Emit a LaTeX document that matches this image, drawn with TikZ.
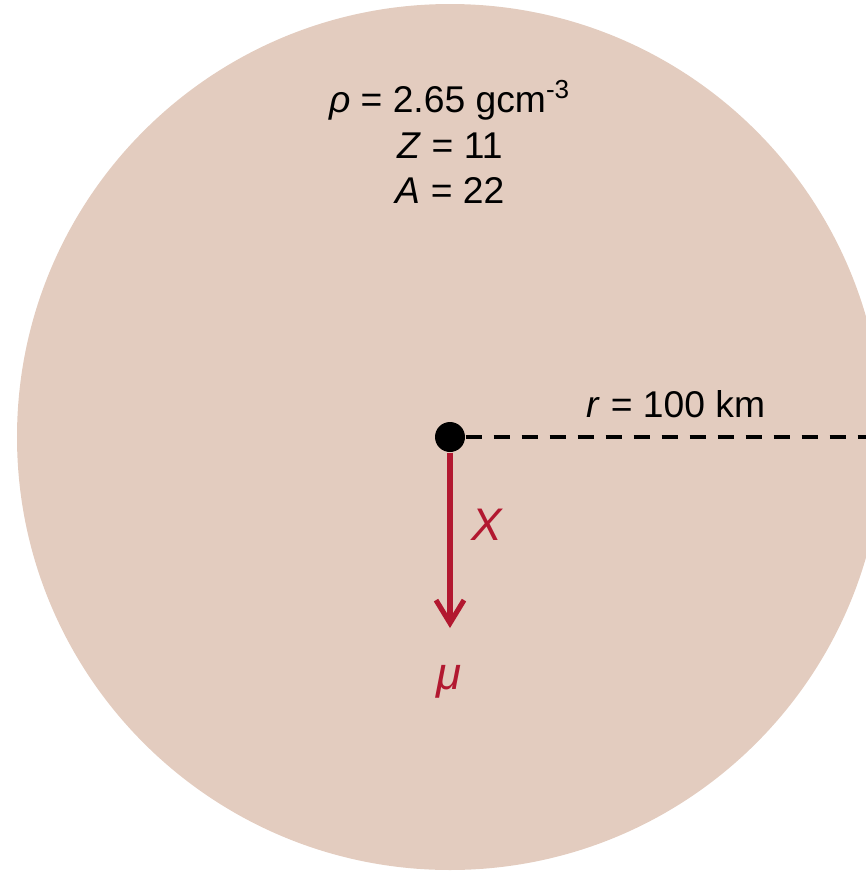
\documentclass[tikz,border=0pt]{standalone}
\usepackage{fontspec}
\setmainfont{Liberation Sans}
\usepackage{tikz}
\usetikzlibrary{arrows.meta,positioning}
\definecolor{RockFill}{RGB}{227,204,191}
\definecolor{MuonRed}{RGB}{178,24,48}

\begin{document}
\begin{tikzpicture}[
    lbl/.style={font=\fontsize{10.6}{12.9}\selectfont, align=center, inner sep=0pt},
    redlbl/.style={font=\fontsize{13}{15}\selectfont\itshape, text=MuonRed, inner sep=0pt},
    dot/.style={circle, fill=black, minimum size=0.3cm, inner sep=0pt},
    arr/.style={-{Straight Barb[length=2.3mm, width=2.8mm]}, line width=1.45pt, draw=MuonRed},
    radius line/.style={dashed, dash pattern=on 0.16cm off 0.12cm, line width=1.15pt}
]
    \useasboundingbox (0,0) rectangle (8.66,-8.71);
    \clip (0,0) rectangle (8.66,-8.71);
    \fill[RockFill] (4.5,-4.37) circle (4.33cm);

    \node[lbl] (props) at (4.5,-1.42) {\textit{ρ} = 2.65 gcm\textsuperscript{-3}\\ \textit{Z} = 11\\ \textit{A} = 22};
    \node[dot] (centre) at (4.5,-4.37) {};
    \coordinate (rim) at (8.7,-4.37);
    \coordinate (tip) at (4.5,-6.28);
    \node[lbl] (rlabel) at (6.76,-4.04) {\textit{r} = 100 km};
    \node[redlbl] (xlabel) at (4.87,-5.25) {X};
    \node[redlbl] (mu) at (4.49,-6.82) {μ};

    \draw[radius line] (centre) -- (rim);
    \draw[arr] (centre) -- (tip);
\end{tikzpicture}
\end{document}
